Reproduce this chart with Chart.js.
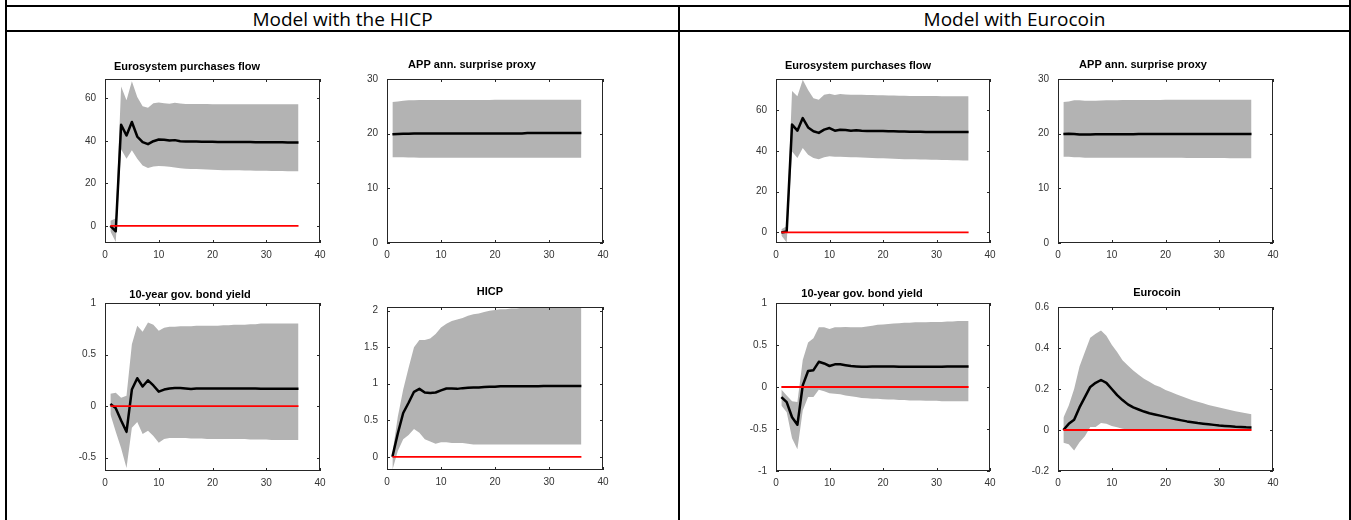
<!DOCTYPE html>
<html>
<head>
<meta charset="utf-8">
<script src="https://cdn.jsdelivr.net/npm/chart.js@4.4.0/dist/chart.umd.min.js"></script>
<style>
  body { margin: 0; background: #fff; width: 1351px; height: 520px; overflow: hidden; position: relative; }
  .rule { position: absolute; background: #000; }
  .head { position: absolute; top: 6px; height: 24px; line-height: 24px; text-align: center;
          font: 19px "Open Sans", "Noto Sans", sans-serif; color: #000; }
  canvas { position: absolute; }
</style>
</head>
<body>
<div class="rule" style="left:5px;top:5px;width:1346px;height:2px"></div>
<div class="rule" style="left:5px;top:30px;width:1346px;height:2px"></div>
<div class="rule" style="left:5px;top:0;width:2px;height:520px"></div>
<div class="rule" style="left:678px;top:5px;width:2px;height:515px"></div>
<div class="rule" style="left:1349px;top:0;width:2px;height:520px"></div>
<div class="head" style="left:7px;width:671px">Model with the HICP</div>
<div class="head" style="left:680px;width:669px">Model with Eurocoin</div>

<script>
// horizons (months after the shock) and axis ticks
const horizons = [1, 2, 3, 4, 5, 6, 7, 8, 9, 10, 11, 12, 13, 14, 15, 16, 17, 18,
                  19, 20, 21, 22, 23, 24, 25, 26, 27, 28, 29, 30, 31, 32, 33, 34, 35, 36];
const xTicks = [0, 10, 20, 30, 40];

// ---- Model with the HICP ----
const hicpFlowMedian = [0, -2.5, 47.5, 42.5, 48.8, 42, 39.4, 38.4, 39.8, 40.6, 40.5, 40.1, 40.3, 39.8, 39.7, 39.6, 39.6, 39.5,
  39.5, 39.5, 39.4, 39.4, 39.4, 39.4, 39.4, 39.4, 39.4, 39.3, 39.3, 39.3, 39.3, 39.3, 39.3, 39.2, 39.2, 39.2];
const hicpFlowUpper = [2.5, 3.5, 65.5, 59, 68, 60.5, 56.2, 55.5, 57.6, 58, 57.6, 57.4, 57.9, 57.5, 57.3, 57.3, 57.3, 57.3,
  57.3, 57.2, 57.2, 57.2, 57.2, 57.2, 57.2, 57.2, 57.2, 57.2, 57.2, 57.2, 57.2, 57.2, 57.2, 57.2, 57.2, 57.2];
const hicpFlowLower = [-2.5, -7.5, 36, 31.5, 35.5, 31.5, 28.4, 27.2, 27.9, 28.2, 28, 27.8, 27.5, 27.1, 26.9, 26.8, 26.7, 26.6,
  26.5, 26.4, 26.3, 26.2, 26.2, 26.1, 26.1, 26, 26, 25.9, 25.9, 25.9, 25.8, 25.8, 25.8, 25.7, 25.7, 25.7];
const hicpFlowTicks = [0, 20, 40, 60];

const hicpProxyMedian = [19.9, 19.95, 20, 20, 20.05, 20.05, 20.05, 20.05, 20.05, 20.05, 20.05, 20.05, 20.05, 20.05, 20.05, 20.05, 20.05, 20.05,
  20.05, 20.05, 20.05, 20.05, 20.05, 20.05, 20.05, 20.1, 20.1, 20.1, 20.1, 20.1, 20.1, 20.1, 20.1, 20.1, 20.1, 20.1];
const hicpProxyUpper = [25.8, 25.9, 26, 26.1, 26.1, 26.15, 26.15, 26.15, 26.15, 26.15, 26.15, 26.15, 26.15, 26.15, 26.15, 26.15, 26.15, 26.15,
  26.15, 26.2, 26.2, 26.2, 26.2, 26.2, 26.2, 26.2, 26.2, 26.2, 26.2, 26.2, 26.2, 26.2, 26.2, 26.2, 26.2, 26.2];
const hicpProxyLower = [15.7, 15.7, 15.7, 15.65, 15.65, 15.6, 15.6, 15.6, 15.6, 15.6, 15.6, 15.6, 15.6, 15.6, 15.6, 15.6, 15.6, 15.6,
  15.6, 15.6, 15.6, 15.6, 15.6, 15.6, 15.6, 15.6, 15.6, 15.6, 15.6, 15.6, 15.6, 15.6, 15.6, 15.6, 15.6, 15.6];
const hicpProxyTicks = [0, 10, 20, 30];

const hicpYieldMedian = [0.02, -0.02, -0.14, -0.25, 0.16, 0.27, 0.19, 0.25, 0.2, 0.14, 0.16, 0.17, 0.175, 0.175, 0.17, 0.165, 0.17, 0.17,
  0.17, 0.17, 0.17, 0.17, 0.17, 0.17, 0.17, 0.17, 0.17, 0.17, 0.168, 0.168, 0.168, 0.168, 0.168, 0.168, 0.168, 0.168];
const hicpYieldUpper = [0.12, 0.13, 0.08, 0.1, 0.6, 0.78, 0.72, 0.81, 0.79, 0.73, 0.76, 0.77, 0.77, 0.775, 0.775, 0.775, 0.78, 0.78,
  0.78, 0.78, 0.78, 0.785, 0.785, 0.79, 0.79, 0.79, 0.795, 0.795, 0.8, 0.8, 0.8, 0.8, 0.8, 0.8, 0.8, 0.8];
const hicpYieldLower = [-0.08, -0.25, -0.41, -0.6, -0.21, -0.155, -0.27, -0.24, -0.29, -0.355, -0.32, -0.31, -0.31, -0.31, -0.31, -0.315, -0.315, -0.315,
  -0.32, -0.32, -0.32, -0.32, -0.32, -0.32, -0.32, -0.32, -0.325, -0.325, -0.325, -0.325, -0.33, -0.33, -0.33, -0.33, -0.33, -0.33];
const hicpYieldTicks = [-0.5, 0, 0.5, 1];

const hicpPriceMedian = [0, 0.32, 0.6, 0.74, 0.89, 0.93, 0.88, 0.875, 0.88, 0.91, 0.935, 0.935, 0.93, 0.94, 0.945, 0.95, 0.95, 0.955,
  0.96, 0.96, 0.965, 0.965, 0.965, 0.965, 0.965, 0.965, 0.965, 0.965, 0.97, 0.97, 0.97, 0.97, 0.97, 0.97, 0.97, 0.97];
const hicpPriceUpper = [0.05, 0.55, 0.92, 1.22, 1.5, 1.6, 1.6, 1.62, 1.68, 1.77, 1.82, 1.86, 1.88, 1.9, 1.93, 1.95, 1.96, 1.98,
  2, 2.01, 2.02, 2.02, 2.03, 2.03, 2.04, 2.04, 2.04, 2.04, 2.05, 2.05, 2.05, 2.05, 2.05, 2.05, 2.05, 2.05];
const hicpPriceLower = [-0.18, 0.08, 0.24, 0.3, 0.38, 0.33, 0.24, 0.21, 0.18, 0.2, 0.2, 0.19, 0.19, 0.19, 0.18, 0.17, 0.17, 0.17,
  0.17, 0.17, 0.17, 0.17, 0.17, 0.17, 0.17, 0.17, 0.17, 0.17, 0.17, 0.17, 0.17, 0.17, 0.17, 0.17, 0.17, 0.17];
const hicpPriceTicks = [0, 0.5, 1, 1.5, 2];

// ---- Model with Eurocoin ----
const ecoinFlowMedian = [0, 0.5, 53, 50, 56.2, 51.6, 49.7, 48.9, 50.5, 51.3, 50, 50.5, 50.3, 50, 50.2, 50, 49.9, 49.9,
  49.8, 49.8, 49.7, 49.7, 49.6, 49.6, 49.5, 49.5, 49.5, 49.4, 49.4, 49.4, 49.4, 49.3, 49.3, 49.3, 49.3, 49.3];
const ecoinFlowUpper = [1.5, 3, 69.5, 66.9, 75, 70, 66, 65.2, 67.7, 68.2, 67.5, 68, 67.8, 67.7, 67.7, 67.6, 67.5, 67.5,
  67.4, 67.4, 67.3, 67.3, 67.2, 67.2, 67.1, 67.1, 67, 67, 67, 67, 66.9, 66.9, 66.9, 66.9, 66.9, 66.9];
const ecoinFlowLower = [-1.5, -5, 39.8, 36.6, 41.5, 38.2, 36.6, 36, 37, 37.4, 37.2, 37.2, 37.1, 37, 36.9, 36.8, 36.7, 36.6,
  36.5, 36.4, 36.3, 36.2, 36.1, 36, 36, 35.9, 35.8, 35.8, 35.7, 35.7, 35.6, 35.6, 35.5, 35.5, 35.4, 35.4];
const ecoinFlowTicks = [0, 20, 40, 60];

const ecoinProxyMedian = [19.95, 20, 19.95, 19.85, 19.85, 19.85, 19.9, 19.9, 19.9, 19.9, 19.9, 19.9, 19.9, 19.9, 19.95, 19.95, 19.95, 19.95,
  19.95, 19.95, 19.95, 19.95, 19.95, 19.95, 19.95, 19.95, 19.95, 19.95, 19.95, 19.95, 19.95, 19.95, 19.95, 19.95, 19.95, 19.95];
const ecoinProxyUpper = [25.8, 25.9, 26.1, 26.1, 26, 26, 26, 26.05, 26.1, 26.1, 26.1, 26.15, 26.15, 26.15, 26.15, 26.15, 26.15, 26.15,
  26.15, 26.2, 26.2, 26.2, 26.2, 26.2, 26.2, 26.2, 26.2, 26.2, 26.2, 26.2, 26.2, 26.2, 26.2, 26.2, 26.2, 26.2];
const ecoinProxyLower = [15.8, 15.8, 15.7, 15.7, 15.6, 15.6, 15.6, 15.6, 15.6, 15.6, 15.6, 15.6, 15.6, 15.6, 15.6, 15.6, 15.6, 15.6,
  15.6, 15.6, 15.6, 15.6, 15.6, 15.55, 15.55, 15.55, 15.55, 15.55, 15.55, 15.55, 15.55, 15.5, 15.5, 15.5, 15.5, 15.5];
const ecoinProxyTicks = [0, 10, 20, 30];

const ecoinYieldMedian = [-0.12, -0.18, -0.36, -0.45, 0.02, 0.19, 0.2, 0.3, 0.28, 0.25, 0.27, 0.27, 0.26, 0.25, 0.245, 0.24, 0.24, 0.245,
  0.245, 0.245, 0.245, 0.245, 0.24, 0.24, 0.24, 0.24, 0.24, 0.24, 0.24, 0.24, 0.24, 0.245, 0.245, 0.245, 0.244, 0.244];
const ecoinYieldUpper = [-0.03, -0.1, -0.17, -0.18, 0.32, 0.53, 0.58, 0.71, 0.71, 0.69, 0.71, 0.71, 0.715, 0.71, 0.71, 0.71, 0.72, 0.73,
  0.74, 0.745, 0.75, 0.755, 0.76, 0.765, 0.765, 0.77, 0.77, 0.77, 0.775, 0.775, 0.775, 0.78, 0.78, 0.785, 0.785, 0.785];
const ecoinYieldLower = [-0.22, -0.3, -0.61, -0.74, -0.28, -0.12, -0.12, -0.033, -0.05, -0.074, -0.08, -0.085, -0.1, -0.11, -0.12, -0.13, -0.135, -0.14,
  -0.14, -0.145, -0.15, -0.15, -0.155, -0.155, -0.16, -0.16, -0.16, -0.165, -0.165, -0.165, -0.17, -0.17, -0.17, -0.17, -0.17, -0.17];
const ecoinYieldTicks = [-1, -0.5, 0, 0.5, 1];

const ecoinActMedian = [0, 0.03, 0.05, 0.11, 0.16, 0.21, 0.23, 0.244, 0.23, 0.2, 0.17, 0.146, 0.125, 0.11, 0.1, 0.09, 0.082, 0.076,
  0.07, 0.064, 0.058, 0.052, 0.047, 0.042, 0.038, 0.034, 0.031, 0.028, 0.025, 0.022, 0.02, 0.018, 0.016, 0.015, 0.013, 0.012];
const ecoinActUpper = [0.06, 0.12, 0.2, 0.31, 0.38, 0.45, 0.47, 0.485, 0.46, 0.416, 0.38, 0.34, 0.315, 0.29, 0.27, 0.25, 0.235, 0.22,
  0.21, 0.195, 0.185, 0.175, 0.165, 0.155, 0.145, 0.138, 0.13, 0.122, 0.116, 0.11, 0.104, 0.098, 0.092, 0.087, 0.082, 0.077];
const ecoinActLower = [-0.062, -0.07, -0.1, -0.06, -0.03, 0.015, 0.015, 0.034, 0.03, 0.02, 0.013, 0.006, 0.002, 0, -0.002, -0.003, -0.003, -0.003,
  -0.003, -0.003, -0.003, -0.003, -0.003, -0.003, -0.003, -0.003, -0.003, -0.003, -0.003, -0.003, -0.003, -0.003, -0.003, -0.003, -0.003, -0.003];
const ecoinActTicks = [-0.2, 0, 0.2, 0.4, 0.6];

// zero reference line
const zeroLevel = [0, 0];

// panel layout: plot box in page px, axis range, title centre
const panels = [
  { title: 'Eurosystem purchases flow', med: hicpFlowMedian, lo: hicpFlowLower, hi: hicpFlowUpper, ticks: hicpFlowTicks,
    yMin: -8, yMax: 69, box: [105, 79, 320, 243], titleAt: [187, 67] },
  { title: 'APP ann. surprise proxy', med: hicpProxyMedian, lo: hicpProxyLower, hi: hicpProxyUpper, ticks: hicpProxyTicks,
    yMin: 0, yMax: 30, box: [387, 79, 603, 243], titleAt: [472, 65] },
  { title: '10-year gov. bond yield', med: hicpYieldMedian, lo: hicpYieldLower, hi: hicpYieldUpper, ticks: hicpYieldTicks,
    yMin: -0.63, yMax: 1, box: [105, 303, 320, 471], titleAt: [190, 295] },
  { title: 'HICP', med: hicpPriceMedian, lo: hicpPriceLower, hi: hicpPriceUpper, ticks: hicpPriceTicks,
    yMin: -0.18, yMax: 2.05, box: [387, 307, 603, 470], titleAt: [490, 292] },
  { title: 'Eurosystem purchases flow', med: ecoinFlowMedian, lo: ecoinFlowLower, hi: ecoinFlowUpper, ticks: ecoinFlowTicks,
    yMin: -5.2, yMax: 75.4, box: [776, 79, 990, 243], titleAt: [858, 66] },
  { title: 'APP ann. surprise proxy', med: ecoinProxyMedian, lo: ecoinProxyLower, hi: ecoinProxyUpper, ticks: ecoinProxyTicks,
    yMin: 0, yMax: 30, box: [1058, 79, 1273, 243], titleAt: [1143, 65] },
  { title: '10-year gov. bond yield', med: ecoinYieldMedian, lo: ecoinYieldLower, hi: ecoinYieldUpper, ticks: ecoinYieldTicks,
    yMin: -1, yMax: 1, box: [776, 303, 990, 471], titleAt: [862, 294] },
  { title: 'Eurocoin', med: ecoinActMedian, lo: ecoinActLower, hi: ecoinActUpper, ticks: ecoinActTicks,
    yMin: -0.2, yMax: 0.6, box: [1058, 307, 1273, 471], titleAt: [1157, 293] }
];

const PAD_L = 50, PAD_T = 30, PAD_R = 20, PAD_B = 25;
const AXIS_COLOR = '#262626';

// box round the plot, inward ticks on all four sides, bold title
const matlabFrame = {
  id: 'matlabFrame',
  afterDraw(chart, args, opts) {
    const { ctx, chartArea: a, scales } = chart;
    ctx.save();
    ctx.strokeStyle = AXIS_COLOR;
    ctx.lineWidth = 1;
    ctx.strokeRect(Math.round(a.left) + 0.5, Math.round(a.top) + 0.5,
                   Math.round(a.right - a.left) - 1, Math.round(a.bottom - a.top) - 1);
    ctx.beginPath();
    scales.x.ticks.forEach(t => {
      const px = Math.round(scales.x.getPixelForValue(t.value)) + 0.5;
      ctx.moveTo(px, a.bottom); ctx.lineTo(px, a.bottom - 3);
      ctx.moveTo(px, a.top); ctx.lineTo(px, a.top + 3);
    });
    scales.y.ticks.forEach(t => {
      const py = Math.round(scales.y.getPixelForValue(t.value)) + 0.5;
      ctx.moveTo(a.left, py); ctx.lineTo(a.left + 3, py);
      ctx.moveTo(a.right, py); ctx.lineTo(a.right - 3, py);
    });
    ctx.stroke();
    ctx.fillStyle = '#000';
    ctx.font = 'bold 11px "Liberation Sans", Arial, sans-serif';
    ctx.textAlign = 'center';
    ctx.textBaseline = 'middle';
    ctx.fillText(opts.text, opts.x, opts.y);
    ctx.restore();
  }
};

const tickFont = { family: '"Liberation Sans", Arial, sans-serif', size: 10 };

panels.forEach(p => {
  const [l, t, r, b] = p.box;
  const canvas = document.createElement('canvas');
  const cLeft = l - PAD_L, cTop = t - PAD_T;
  canvas.width = (r - l) + PAD_L + PAD_R;
  canvas.height = (b - t) + PAD_T + PAD_B;
  canvas.style.left = cLeft + 'px';
  canvas.style.top = cTop + 'px';
  document.body.appendChild(canvas);

  const pts = arr => horizons.map((h, i) => ({ x: h, y: arr[i] }));
  const last = horizons[horizons.length - 1];

  new Chart(canvas, {
    type: 'line',
    data: {
      datasets: [
        { data: [{ x: horizons[0], y: zeroLevel[0] }, { x: last, y: zeroLevel[1] }],
          borderColor: '#ff0000', borderWidth: 1.8, pointRadius: 0, fill: false, order: 0 },
        { data: pts(p.med), borderColor: '#000', borderWidth: 2.5, pointRadius: 0, fill: false,
          tension: 0, order: 1, borderJoinStyle: 'round' },
        { data: pts(p.lo), borderColor: 'rgba(0,0,0,0)', borderWidth: 0, pointRadius: 0, fill: false, order: 3 },
        { data: pts(p.hi), borderColor: 'rgba(0,0,0,0)', borderWidth: 0, pointRadius: 0,
          fill: '-1', backgroundColor: '#b3b3b3', order: 2 }
      ]
    },
    options: {
      responsive: false,
      animation: false,
      devicePixelRatio: 1,
      events: [],
      layout: { padding: { left: 0, top: PAD_T, right: PAD_R, bottom: 0 } },
      plugins: {
        legend: { display: false },
        tooltip: { enabled: false },
        matlabFrame: { text: p.title, x: p.titleAt[0] - cLeft, y: p.titleAt[1] - cTop }
      },
      scales: {
        x: {
          type: 'linear', min: 0, max: 40,
          afterBuildTicks: s => { s.ticks = xTicks.map(v => ({ value: v })); },
          afterFit: s => { s.height = PAD_B; },
          grid: { display: false, drawTicks: false },
          border: { display: false },
          ticks: { autoSkip: false, maxRotation: 0, padding: 6, color: '#333', font: tickFont,
                   callback: v => String(v) }
        },
        y: {
          type: 'linear', min: p.yMin, max: p.yMax,
          afterBuildTicks: s => { s.ticks = p.ticks.map(v => ({ value: v })); },
          afterFit: s => { s.width = PAD_L; },
          grid: { display: false, drawTicks: false },
          border: { display: false },
          ticks: { autoSkip: false, padding: 9, color: '#333', font: tickFont,
                   callback: v => String(v) }
        }
      }
    },
    plugins: [matlabFrame]
  });
});
</script>
</body>
</html>
